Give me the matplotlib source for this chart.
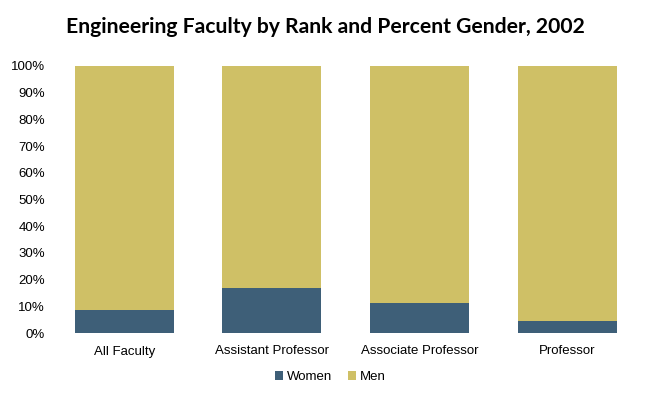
import matplotlib
matplotlib.use("Agg")
import matplotlib.pyplot as plt
from matplotlib.ticker import PercentFormatter

# Engineering faculty by rank, share of women/men (percent), 2002
ranks = ["All Faculty", "Assistant Professor", "Associate Professor", "Professor"]
women = [8.7, 16.9, 11.2, 4.4]
men = [100 - w for w in women]

women_color = "#3E5F78"
men_color = "#CFC066"

plt.rcParams["font.family"] = ["Liberation Sans", "DejaVu Sans"]

fig = plt.figure(figsize=(6.53, 4.0), dpi=100)
ax = fig.add_axes([50.5 / 653, 1 - 333 / 400, 590.5 / 653, 267 / 400])

x = range(len(ranks))
ax.bar(x, women, width=0.67, color=women_color, label="Women")
ax.bar(x, men, width=0.67, bottom=women, color=men_color, label="Men")

ax.set_xlim(-0.5, len(ranks) - 0.5)
ax.set_ylim(0, 100)
ax.set_yticks(range(0, 101, 10))
ax.yaxis.set_major_formatter(PercentFormatter(decimals=0))
ax.set_xticks(list(x))
ax.set_xticklabels(ranks)
ax.tick_params(length=0, labelsize=9.5, colors="black")
ax.tick_params(axis="y", pad=4)
ax.tick_params(axis="x", pad=9)
for s in ax.spines.values():
    s.set_visible(False)

fig.text(325 / 653, 1 - 27 / 400, "Engineering Faculty by Rank and Percent Gender, 2002",
         ha="center", va="center", fontsize=15.2, fontweight="bold", family="Lato")

ax.legend(loc="center", bbox_to_anchor=(330 / 653, 1 - 377 / 400), bbox_transform=fig.transFigure,
          ncol=2, frameon=False, fontsize=9.5, handlelength=0.6, handleheight=0.6,
          handletextpad=0.3, columnspacing=1.2)

fig.savefig("out.png", dpi=100)
